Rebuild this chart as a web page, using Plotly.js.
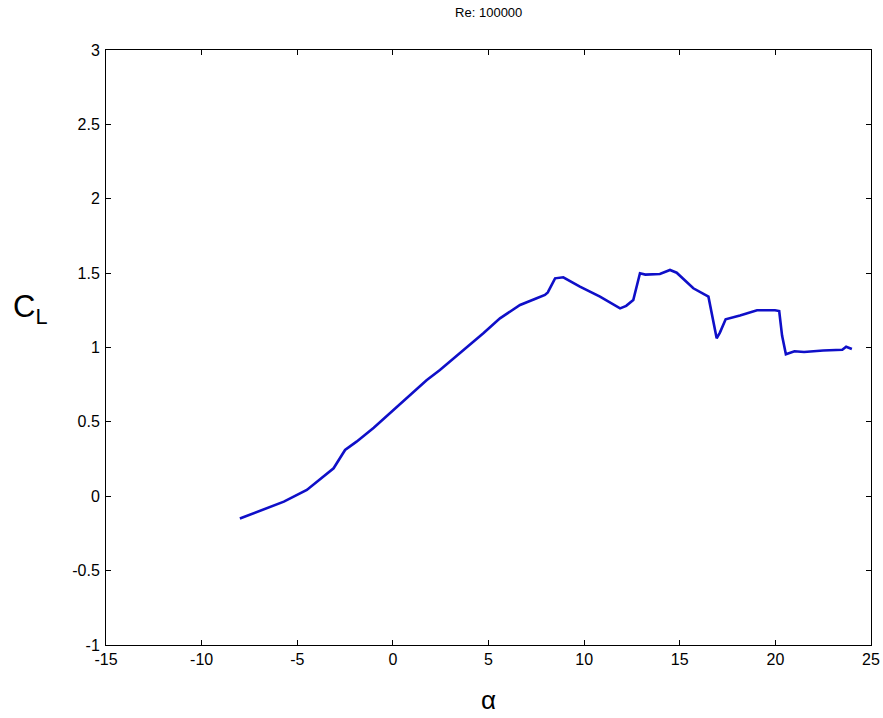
<!DOCTYPE html>
<html>
<head>
<meta charset="utf-8">
<script src="https://cdn.plot.ly/plotly-3.0.1.min.js"></script>
<style>html,body{margin:0;padding:0;background:#fff;}#chart{width:883px;height:718px;}</style>
</head>
<body>
<div id="chart"></div>
<script>
// angle of attack (deg)
const alpha = [-8.0, -7.0, -5.7, -4.5, -3.1, -2.5, -1.9, -1.0, -0.15, 0.8, 1.76, 2.46, 3.6, 4.73, 5.6, 6.65, 7.52, 7.95, 8.1, 8.48, 8.91, 9.78, 10.83, 11.88, 12.2, 12.57, 12.92, 13.2, 13.96, 14.49, 14.84, 15.71, 16.5, 16.67, 16.93, 17.1, 17.4, 18.15, 19.04, 19.98, 20.2, 20.35, 20.55, 21.0, 21.5, 22.5, 23.5, 23.7, 24.0];
// lift coefficient
const cl = [-0.15, -0.10, -0.036, 0.042, 0.188, 0.311, 0.367, 0.46, 0.558, 0.67, 0.78, 0.849, 0.97, 1.096, 1.196, 1.286, 1.331, 1.353, 1.37, 1.465, 1.472, 1.409, 1.342, 1.263, 1.28, 1.319, 1.499, 1.49, 1.494, 1.521, 1.503, 1.398, 1.342, 1.23, 1.062, 1.10, 1.19, 1.215, 1.25, 1.25, 1.245, 1.08, 0.955, 0.975, 0.97, 0.98, 0.985, 1.005, 0.99];
const xTicks = [-15, -10, -5, 0, 5, 10, 15, 20, 25];
const yTicks = [-1, -0.5, 0, 0.5, 1, 1.5, 2, 2.5, 3];
const titleText = 'Re: 100000';

const tickFont = {family: 'Liberation Sans, Arial, sans-serif', size: 16, color: '#000'};

Plotly.newPlot('chart', [{
  x: alpha, y: cl, type: 'scatter', mode: 'lines',
  line: {color: 'rgb(15,15,200)', width: 2.6},
  hoverinfo: 'skip'
}], {
  width: 883, height: 718,
  margin: {l: 106, r: 12, t: 50, b: 73},
  paper_bgcolor: '#fff', plot_bgcolor: '#fff',
  showlegend: false,
  title: {text: titleText, font: {family: 'Liberation Sans, Arial, sans-serif', size: 13, color: '#000'}, x: 0.5535, xanchor: 'center', y: 0.982, yanchor: 'middle'},
  xaxis: {
    range: [-15, 25], tickvals: xTicks, ticktext: xTicks.map(String),
    ticks: 'inside', ticklen: 5, tickwidth: 1, tickcolor: '#000',
    showline: true, linecolor: '#000', linewidth: 1, mirror: 'ticks',
    showgrid: false, zeroline: false, tickfont: tickFont, ticklabelstandoff: 0
  },
  yaxis: {
    range: [-1, 3], tickvals: yTicks, ticktext: yTicks.map(String),
    ticks: 'inside', ticklen: 5, tickwidth: 1, tickcolor: '#000',
    showline: true, linecolor: '#000', linewidth: 1, mirror: 'ticks',
    showgrid: false, zeroline: false, tickfont: tickFont, ticklabelstandoff: 2
  },
  annotations: [
    {text: 'C<sub>L</sub>', xref: 'paper', yref: 'paper', x: -0.1, y: 0.565, xanchor: 'center', yanchor: 'middle', showarrow: false,
     font: {family: 'Liberation Sans, Arial, sans-serif', size: 31, color: '#000'}},
    {text: 'α', xref: 'paper', yref: 'paper', x: 0.5, y: -0.092, xanchor: 'center', yanchor: 'middle', showarrow: false,
     font: {family: 'Liberation Sans, Arial, sans-serif', size: 26, color: '#000'}}
  ]
}, {staticPlot: true});
</script>
</body>
</html>
